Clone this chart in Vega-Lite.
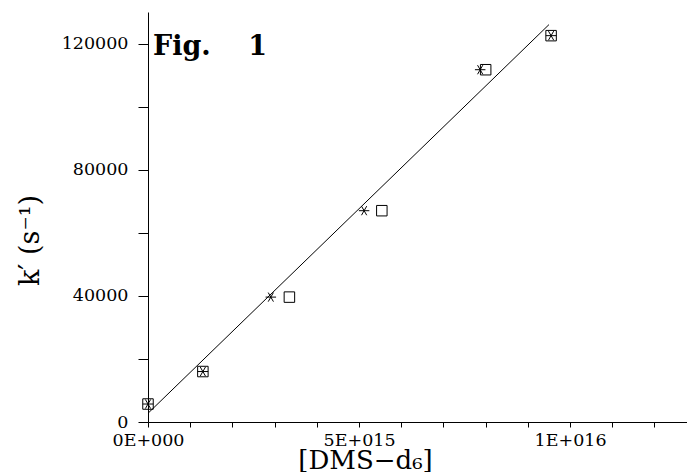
{
  "$schema": "https://vega.github.io/schema/vega-lite/v6.json",
  "autosize": "none",
  "padding": {"left": 148, "top": 12, "right": 0, "bottom": 50},
  "width": 539,
  "height": 410,
  "background": "white",
  "config": {
    "view": {"stroke": null},
    "font": "DejaVu Serif",
    "axis": {"grid": false, "domainColor": "black", "tickColor": "black", "labelColor": "black", "titleColor": "black", "labelFont": "DejaVu Serif", "titleFont": "DejaVu Serif", "labelFontSize": 17.5, "titleFontSize": 25, "titleFontWeight": "normal", "domainWidth": 1, "tickWidth": 1}
  },
  "title": {"text": "Fig.\u00a0\u00a0\u00a0\u00a01", "font": "DejaVu Serif", "fontSize": 27, "fontWeight": "bold", "anchor": "start", "frame": "group", "dx": 5, "offset": -70, "baseline": "alphabetic", "color": "black"},
  "layer": [
    {
      "data": {"values": [{"x": 0, "y": 2760}, {"x": 9.5e15, "y": 126000}]},
      "mark": {"type": "line", "color": "black", "strokeWidth": 1},
      "encoding": {
        "x": {"field": "x", "type": "quantitative", "scale": {"domain": [0, 1.277e16], "nice": false, "zero": false},
          "axis": {"values": [0, 1e15, 2e15, 3e15, 4e15, 5e15, 6e15, 7e15, 8e15, 9e15, 1e16, 1.1e16, 1.2e16],
            "labelExpr": "datum.value == 0 ? '0E+000' : datum.value == 5e15 ? '5E+015' : datum.value == 1e16 ? '1E+016' : ''",
            "tickSize": 5, "labelPadding": 4, "labelOverlap": false, "labelFlush": false,
            "title": "[DMS−d₆]", "titleFontSize": 26, "titleX": 217, "titleAlign": "center", "titlePadding": -1}},
        "y": {"field": "y", "type": "quantitative", "scale": {"domain": [0, 130000], "nice": false},
          "axis": {"values": [0, 20000, 40000, 60000, 80000, 100000, 120000],
            "format": "d",
            "labelExpr": "datum.value % 40000 == 0 ? datum.label : ''",
            "tickSize": 10, "labelPadding": 10, "labelOverlap": false, "labelFlush": false,
            "title": "k′  (s⁻¹)", "titleFontSize": 27, "titleAngle": -90, "titleX": -118, "titleY": 228, "titleAlign": "center", "titleBaseline": "middle"}}
      }
    },
    {
      "data": {"values": [
        {"series": "asterisk", "x": 0, "y": 5700},
        {"series": "asterisk", "x": 1.3e15, "y": 16000},
        {"series": "asterisk", "x": 2.91e15, "y": 39600},
        {"series": "asterisk", "x": 5.12e15, "y": 67000},
        {"series": "asterisk", "x": 7.87e15, "y": 111700},
        {"series": "asterisk", "x": 9.55e15, "y": 122500},
        {"series": "square", "x": 0, "y": 5700},
        {"series": "square", "x": 1.3e15, "y": 16000},
        {"series": "square", "x": 3.35e15, "y": 39600},
        {"series": "square", "x": 5.54e15, "y": 67000},
        {"series": "square", "x": 8.0e15, "y": 111700},
        {"series": "square", "x": 9.55e15, "y": 122500}
      ]},
      "mark": {"type": "point", "filled": false, "color": "black", "strokeWidth": 1, "opacity": 1},
      "encoding": {
        "x": {"field": "x", "type": "quantitative"},
        "y": {"field": "y", "type": "quantitative"},
        "shape": {"field": "series", "type": "nominal", "legend": null,
          "scale": {"domain": ["asterisk", "square"], "range": ["M-1,0L1,0M-0.5,-0.866L0.5,0.866M-0.5,0.866L0.5,-0.866", "square"]}},
        "size": {"value": 110}
      }
    }
  ]
}
